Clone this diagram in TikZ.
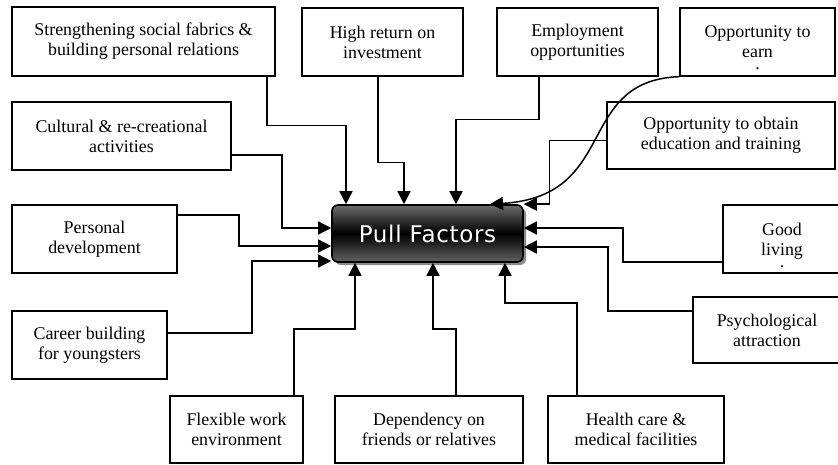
\documentclass[tikz,border=0pt]{standalone}
\usepackage{fontspec}
\setmainfont{Liberation Serif}
\newfontfamily\pullfont[LetterSpace=3]{DejaVu Sans}
\usepackage{tikz}
\usetikzlibrary{arrows.meta, shadows}

\begin{document}
\begin{tikzpicture}[x=1pt, y=-1pt,
  factor/.style={draw, line width=1.3pt, align=center, inner sep=0pt,
    font=\fontsize{17.9}{20}\selectfont},
  feed/.style={line width=1.5pt, -{Triangle[length=13pt, width=13pt]}},
  pull/.style={draw, line width=1.6pt, rounded corners=6pt, inner sep=0pt,
    top color=black!58, bottom color=black!62, middle color=black,
    drop shadow={shadow xshift=3pt, shadow yshift=-3pt, fill=black!45, opacity=1},
    text=white, font=\pullfont\fontsize{23}{26}\selectfont}]
\useasboundingbox (0,0) rectangle (838,464);
\node[pull, minimum width=191, minimum height=57] (pull) at (427.5,233.5) {Pull Factors};
\node[factor, minimum width=263, minimum height=69] (strength) at (143.5,41.5) {Strengthening social fabrics \&\\building personal relations};
\node[factor, minimum width=161, minimum height=68] (highret) at (382.5,42) {High return on\\investment};
\node[factor, minimum width=161, minimum height=68] (employ) at (577.5,42) {Employment\\opportunities};
\node[factor, minimum width=155, minimum height=68] (earn) at (757.5,42) {Opportunity to\\\ooalign{earn\cr\hidewidth\smash{\raisebox{-12pt}{.}}\hidewidth\cr}};
\node[factor, minimum width=228, minimum height=67] (edu) at (721,135.5) {Opportunity to obtain\\education and training};
\node[factor, minimum width=219, minimum height=68] (cultural) at (121.5,136) {Cultural \& re-creational\\activities};
\node[factor, minimum width=165, minimum height=68] (personal) at (94.5,239) {Personal\\development};
\node[factor, minimum width=155, minimum height=68] (career) at (89.5,345) {Career building\\for youngsters};
\node[factor, minimum width=133, minimum height=67] (flex) at (236.5,429.5) {Flexible work\\environment};
\node[factor, minimum width=188, minimum height=67] (dep) at (429,429.5) {Dependency on\\friends or relatives};
\node[factor, minimum width=176, minimum height=67] (health) at (636,429.5) {Health care \&\\medical facilities};
\node[factor, minimum width=118, minimum height=68] (good) at (782,239) {Good\\\ooalign{living\cr\hidewidth\smash{\raisebox{-12pt}{.}}\hidewidth\cr}};
\node[factor, minimum width=148, minimum height=66] (psych) at (767,330) {Psychological\\attraction};
\draw[feed] (strength.south -| 267,0) -- ++(0,49) -| (pull.north -| 346,0);
\draw[feed] (highret.south -| 378,0) -- ++(0,86) -| (pull.north -| 404,0);
\draw[feed] (employ.south -| 539,0) -- ++(0,43) -| (pull.north -| 456,0);
\draw[feed] (earn.south west) .. controls +(-105,4) and +(130,-8) .. (pull.north -| 490,0);
\draw[feed] ([yshift=-5pt]edu.west) -- ++(-57,0) |- (pull.north east);
\draw[feed] ([yshift=-23pt]good.west) -| (623,228) -- (pull.east |- 0,228);
\draw[feed] ([yshift=19pt]psych.west) -| (608,247) -- (pull.east |- 0,247);
\draw[feed] (health.north -| 577,0) |- (505,303) -- (pull.south -| 505,0);
\draw[feed] (dep.north -| 456,0) |- (433,329) -- (pull.south -| 433,0);
\draw[feed] (flex.north -| 294,0) |- (355,329) -- (pull.south -| 355,0);
\draw[feed] ([yshift=12pt]career.east) -| (252,261) -- (pull.west |- 0,261);
\draw[feed] ([yshift=24pt]personal.east) -| (239,246) -- (pull.west |- 0,246);
\draw[feed] ([yshift=-19pt]cultural.east) -| (282,228) -- (pull.west |- 0,228);
\end{tikzpicture}
\end{document}
